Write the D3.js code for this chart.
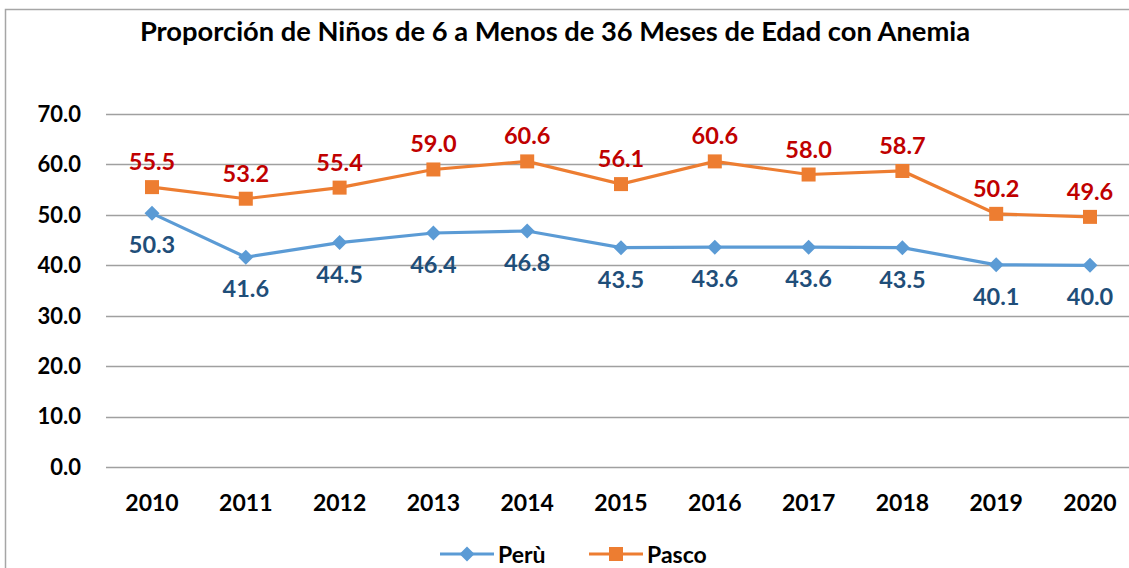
<!DOCTYPE html>
<html>
<head>
<meta charset="utf-8">
<script src="https://cdn.jsdelivr.net/npm/d3@7"></script>
<style>
  body { margin: 0; background: #fff; }
  text { font-family: Lato, "Open Sans", sans-serif; font-weight: bold; }
</style>
</head>
<body>
<svg id="chart" width="1129" height="568"></svg>
<script>
// data
var years = ['2010', '2011', '2012', '2013', '2014', '2015', '2016', '2017', '2018', '2019', '2020'];
var peru = [50.3, 41.6, 44.5, 46.4, 46.8, 43.5, 43.6, 43.6, 43.5, 40.1, 40.0];
var pasco = [55.5, 53.2, 55.4, 59.0, 60.6, 56.1, 60.6, 58.0, 58.7, 50.2, 49.6];
var yTicks = [0, 10, 20, 30, 40, 50, 60, 70];

var series = [
	{ key: 'Perù', values: peru, color: '#5B9BD5', label: '#1F4E79', marker: 'diamond', dy: 40 },
	{ key: 'Pasco', values: pasco, color: '#ED7D31', label: '#C00000', marker: 'square', dy: -17 }
];

var svg = d3.select('#chart');

// outer frame (right/bottom run off the picture)
svg.append('rect')
	.attr('x', 5.5).attr('y', 9.5)
	.attr('width', 1200).attr('height', 600)
	.attr('fill', 'none').attr('stroke', '#A6A6A6').attr('stroke-width', 1.5);

svg.append('text')
	.attr('x', 555).attr('y', 41)
	.attr('text-anchor', 'middle')
	.attr('font-size', 27.3)
	.attr('fill', '#000')
	.text('Proporción de Niños de 6 a Menos de 36 Meses de Edad con Anemia');

var x = d3.scalePoint().domain(years).range([152, 1090]);
var y = d3.scaleLinear().domain([0, 70]).range([467, 114]);

// gridlines
svg.append('g').selectAll('line').data(yTicks).enter().append('line')
	.attr('x1', 106).attr('x2', 1129)
	.attr('y1', function(d) { return Math.round(y(d)) + 0.5; })
	.attr('y2', function(d) { return Math.round(y(d)) + 0.5; })
	.attr('stroke', '#A0A0A0').attr('stroke-width', 1.3);

// y labels
svg.append('g').selectAll('text').data(yTicks).enter().append('text')
	.attr('x', 81)
	.attr('y', function(d) { return y(d); })
	.attr('dy', '.36em')
	.attr('text-anchor', 'end')
	.attr('font-size', 22)
	.text(function(d) { return d.toFixed(1); });

// x labels
svg.append('g').selectAll('text').data(years).enter().append('text')
	.attr('x', function(d) { return x(d); })
	.attr('y', 511)
	.attr('text-anchor', 'middle')
	.attr('font-size', 23)
	.text(function(d) { return d; });

var line = d3.line()
	.x(function(d, i) { return x(years[i]); })
	.y(function(d) { return y(d); });

function drawMarker(sel, type, color) {
	if (type === 'square') {
		sel.append('rect')
			.attr('x', -7).attr('y', -7).attr('width', 14).attr('height', 14)
			.attr('fill', color);
	} else {
		sel.append('path')
			.attr('d', 'M0,-7.5L7.5,0L0,7.5L-7.5,0Z')
			.attr('fill', color);
	}
}

series.forEach(function(s) {
	var g = svg.append('g');

	g.append('path')
		.datum(s.values)
		.attr('d', line)
		.attr('fill', 'none')
		.attr('stroke', s.color)
		.attr('stroke-width', 3.2);

	g.selectAll('.pt').data(s.values).enter().append('g')
		.attr('class', 'pt')
		.attr('transform', function(d, i) { return 'translate(' + x(years[i]) + ',' + y(d) + ')'; })
		.call(drawMarker, s.marker, s.color);

	g.selectAll('.lbl').data(s.values).enter().append('text')
		.attr('x', function(d, i) { return x(years[i]); })
		.attr('y', function(d) { return y(d) + s.dy; })
		.attr('text-anchor', 'middle')
		.attr('font-size', 23.5)
		.attr('fill', s.label)
		.text(function(d) { return d.toFixed(1); });
});

// legend
var legend = svg.append('g').selectAll('g').data(series).enter().append('g')
	.attr('transform', function(d, i) { return 'translate(' + (440 + i * 149) + ',554)'; });

legend.append('line')
	.attr('x1', 0).attr('x2', 54)
	.attr('stroke', function(d) { return d.color; })
	.attr('stroke-width', 3.2);

legend.each(function(d) {
	d3.select(this).append('g')
		.attr('transform', 'translate(27,0)')
		.call(drawMarker, d.marker, d.color);
});

legend.append('text')
	.attr('x', 58)
	.attr('y', 9)
	.attr('font-size', 23)
	.text(function(d) { return d.key; });
</script>
</body>
</html>
